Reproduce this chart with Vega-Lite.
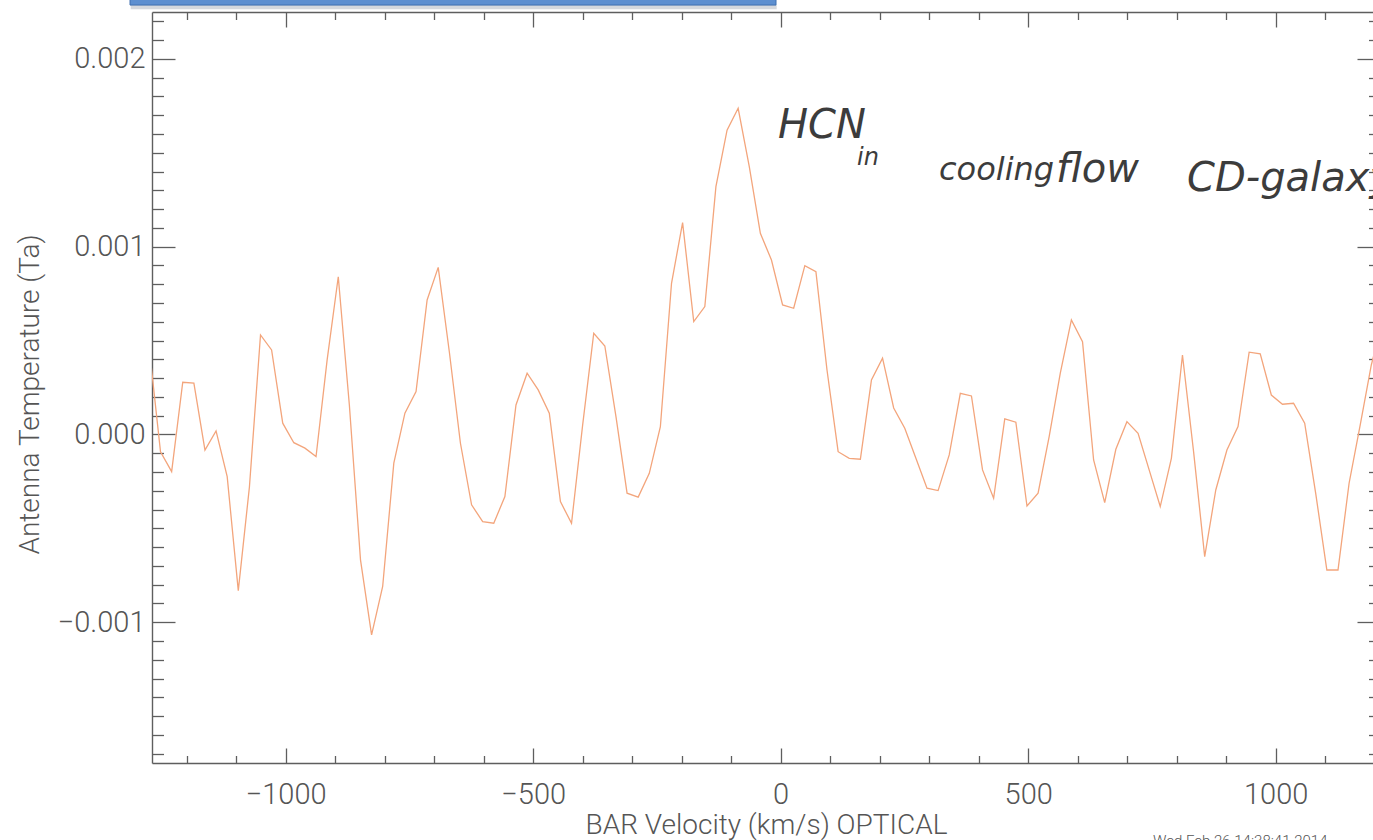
{
  "$schema": "https://vega.github.io/schema/vega-lite/v6.json",
  "autosize": {"type": "none"},
  "padding": {"left": 152, "top": 12, "right": 0, "bottom": 77},
  "width": 1221,
  "height": 751,
  "background": "white",
  "config": {
    "view": {"stroke": null},
    "axis": {
      "grid": false,
      "domain": false,
      "domainColor": "#5e5e5e",
      "domainWidth": 1.4,
      "tickColor": "#5e5e5e",
      "tickWidth": 1.3,
      "labelFont": "Roboto",
      "labelFontWeight": 300,
      "labelFontSize": 29,
      "labelColor": "#555555",
      "labelFlush": false,
      "labelOverlap": false,
      "labelBound": false,
      "titleFont": "Roboto",
      "titleFontWeight": 300,
      "titleColor": "#555555"
    }
  },
  "datasets": {
    "spectrum": [
      {"v": -1275.2, "t": 0.00045},
      {"v": -1252.8, "t": -0.000092},
      {"v": -1230.3, "t": -0.000198},
      {"v": -1207.9, "t": 0.000278},
      {"v": -1185.4, "t": 0.000273},
      {"v": -1163.0, "t": -0.000083},
      {"v": -1140.6, "t": 0.000019},
      {"v": -1118.1, "t": -0.000225},
      {"v": -1095.7, "t": -0.000832},
      {"v": -1073.2, "t": -0.00028},
      {"v": -1050.8, "t": 0.00053},
      {"v": -1028.4, "t": 0.00045},
      {"v": -1005.9, "t": 0.00006},
      {"v": -983.5, "t": -0.000044},
      {"v": -961.0, "t": -0.000073},
      {"v": -938.6, "t": -0.000118},
      {"v": -916.2, "t": 0.000397},
      {"v": -893.7, "t": 0.00084},
      {"v": -871.3, "t": 0.000157},
      {"v": -848.8, "t": -0.000668},
      {"v": -826.4, "t": -0.001068},
      {"v": -804.0, "t": -0.00081},
      {"v": -781.5, "t": -0.000153},
      {"v": -759.1, "t": 0.000113},
      {"v": -736.6, "t": 0.000228},
      {"v": -714.2, "t": 0.000716},
      {"v": -691.8, "t": 0.00089},
      {"v": -669.3, "t": 0.000439},
      {"v": -646.9, "t": -0.000047},
      {"v": -624.4, "t": -0.000375},
      {"v": -602.0, "t": -0.000464},
      {"v": -579.6, "t": -0.000473},
      {"v": -557.1, "t": -0.000331},
      {"v": -534.7, "t": 0.000157},
      {"v": -512.2, "t": 0.000326},
      {"v": -489.8, "t": 0.000237},
      {"v": -467.4, "t": 0.000113},
      {"v": -444.9, "t": -0.000358},
      {"v": -422.5, "t": -0.000473},
      {"v": -400.0, "t": 0.000051},
      {"v": -377.6, "t": 0.000539},
      {"v": -355.2, "t": 0.000471},
      {"v": -332.7, "t": 0.000095},
      {"v": -310.3, "t": -0.000313},
      {"v": -287.8, "t": -0.000334},
      {"v": -265.4, "t": -0.000207},
      {"v": -243.0, "t": 0.000042},
      {"v": -220.5, "t": 0.000805},
      {"v": -198.1, "t": 0.001128},
      {"v": -175.6, "t": 0.000601},
      {"v": -153.2, "t": 0.000681},
      {"v": -130.8, "t": 0.00132},
      {"v": -108.3, "t": 0.001621},
      {"v": -85.9, "t": 0.001737},
      {"v": -63.4, "t": 0.001426},
      {"v": -41.0, "t": 0.001071},
      {"v": -18.6, "t": 0.000929},
      {"v": 3.9, "t": 0.00069},
      {"v": 26.3, "t": 0.000672},
      {"v": 48.8, "t": 0.000899},
      {"v": 71.2, "t": 0.000867},
      {"v": 93.6, "t": 0.000343},
      {"v": 116.1, "t": -0.000092},
      {"v": 138.5, "t": -0.000127},
      {"v": 161.0, "t": -0.000132},
      {"v": 183.4, "t": 0.00029},
      {"v": 205.8, "t": 0.000406},
      {"v": 228.3, "t": 0.000141},
      {"v": 250.7, "t": 0.000033},
      {"v": 273.2, "t": -0.000127},
      {"v": 295.6, "t": -0.000286},
      {"v": 318.0, "t": -0.000299},
      {"v": 340.5, "t": -0.000109},
      {"v": 362.9, "t": 0.000219},
      {"v": 385.4, "t": 0.000205},
      {"v": 407.8, "t": -0.000189},
      {"v": 430.2, "t": -0.00034},
      {"v": 452.7, "t": 0.000083},
      {"v": 475.1, "t": 0.000065},
      {"v": 497.6, "t": -0.000381},
      {"v": 520.0, "t": -0.000313},
      {"v": 542.4, "t": -0.000012},
      {"v": 564.9, "t": 0.000326},
      {"v": 587.3, "t": 0.00061},
      {"v": 609.8, "t": 0.000494},
      {"v": 632.2, "t": -0.000136},
      {"v": 654.6, "t": -0.000363},
      {"v": 677.1, "t": -0.000079},
      {"v": 699.5, "t": 0.000068},
      {"v": 722.0, "t": 0.000006},
      {"v": 744.4, "t": -0.000189},
      {"v": 766.8, "t": -0.000384},
      {"v": 789.3, "t": -0.000127},
      {"v": 811.7, "t": 0.000423},
      {"v": 834.2, "t": -0.000093},
      {"v": 856.6, "t": -0.000651},
      {"v": 879.0, "t": -0.000296},
      {"v": 901.5, "t": -0.000083},
      {"v": 923.9, "t": 0.000042},
      {"v": 946.4, "t": 0.000438},
      {"v": 968.8, "t": 0.000429},
      {"v": 991.2, "t": 0.00021},
      {"v": 1013.7, "t": 0.000161},
      {"v": 1036.1, "t": 0.000166},
      {"v": 1058.6, "t": 0.00006},
      {"v": 1081.0, "t": -0.000317},
      {"v": 1103.4, "t": -0.000722},
      {"v": 1125.9, "t": -0.000722},
      {"v": 1148.3, "t": -0.00026},
      {"v": 1170.8, "t": 0.000051},
      {"v": 1193.2, "t": 0.00037},
      {"v": 1215.6, "t": 0.0006}
    ]
  },
  "data": {"name": "spectrum"},
  "layer": [
    {
      "mark": {"type": "line", "clip": true, "color": "#f3a57c", "strokeWidth": 1.3},
      "encoding": {
        "x": {
          "field": "v", "type": "quantitative",
          "scale": {"domain": [-1270, 1196.6], "nice": false, "zero": false},
          "axis": {
            "orient": "bottom", "values": [-1000, -500, 0, 500, 1000], "format": "d",
            "ticks": false, "tickSize": 0, "labelPadding": 40, "labelBaseline": "alphabetic",
            "title": "BAR Velocity (km/s) OPTICAL", "titleFontSize": 28,
            "titleX": 614, "titleY": 70, "titleAlign": "center", "titleBaseline": "alphabetic"
          }
        },
        "y": {
          "field": "t", "type": "quantitative",
          "scale": {"domain": [-0.00175, 0.00225], "nice": false, "zero": false},
          "axis": {
            "orient": "left", "values": [-0.001, 0, 0.001, 0.002], "format": ".3f",
            "ticks": false, "tickSize": 0, "labelPadding": 7, "labelBaseline": "middle",
            "title": "Antenna Temperature (Ta)", "titleFontSize": 28, "titleAngle": 270,
            "titleX": -114, "titleY": 382, "titleAlign": "center", "titleBaseline": "alphabetic"
          }
        }
      }
    },
    {
      "mark": {"type": "line", "opacity": 0},
      "encoding": {
        "x": {
          "field": "v", "type": "quantitative",
          "scale": {"domain": [-1270, 1196.6], "nice": false, "zero": false},
          "axis": {"orient": "bottom", "values": [-1000, -500, 0, 500, 1000], "labels": false, "domain": true, "tickSize": -15, "title": null}
        },
        "y": {
          "field": "t", "type": "quantitative",
          "scale": {"domain": [-0.00175, 0.00225], "nice": false, "zero": false},
          "axis": {"orient": "left", "values": [-0.001, 0, 0.001, 0.002], "labels": false, "domain": true, "tickSize": -23, "title": null}
        }
      }
    },
    {
      "mark": {"type": "line", "opacity": 0},
      "encoding": {
        "x": {
          "field": "v", "type": "quantitative",
          "scale": {"domain": [-1270, 1196.6], "nice": false, "zero": false},
          "axis": {"orient": "bottom", "values": [-1200, -1100, -900, -800, -700, -600, -400, -300, -200, -100, 100, 200, 300, 400, 600, 700, 800, 900, 1100], "labels": false, "tickSize": -7.5, "title": null}
        },
        "y": {
          "field": "t", "type": "quantitative",
          "scale": {"domain": [-0.00175, 0.00225], "nice": false, "zero": false},
          "axis": {"orient": "left", "values": [-0.0017, -0.0016, -0.0015, -0.0014, -0.0013, -0.0012, -0.0011, -0.0009, -0.0008, -0.0007, -0.0006, -0.0005, -0.0004, -0.0003, -0.0002, -0.0001, 0.0001, 0.0002, 0.0003, 0.0004, 0.0005, 0.0006, 0.0007, 0.0008, 0.0009, 0.0011, 0.0012, 0.0013, 0.0014, 0.0015, 0.0016, 0.0017, 0.0018, 0.0019, 0.0021, 0.0022], "labels": false, "tickSize": -11.5, "title": null}
        }
      }
    },
    {
      "mark": {"type": "line", "opacity": 0},
      "encoding": {
        "x": {
          "field": "v", "type": "quantitative",
          "scale": {"domain": [-1270, 1196.6], "nice": false, "zero": false},
          "axis": {"orient": "top", "values": [-1000, -500, 0, 500, 1000], "labels": false, "domain": true, "tickSize": -15, "title": null}
        },
        "y": {
          "field": "t", "type": "quantitative",
          "scale": {"domain": [-0.00175, 0.00225], "nice": false, "zero": false},
          "axis": {"orient": "right", "offset": 7, "values": [-0.001, 0, 0.001, 0.002], "labels": false, "domain": true, "tickSize": -23, "title": null}
        }
      }
    },
    {
      "mark": {"type": "line", "opacity": 0},
      "encoding": {
        "x": {
          "field": "v", "type": "quantitative",
          "scale": {"domain": [-1270, 1196.6], "nice": false, "zero": false},
          "axis": {"orient": "top", "values": [-1200, -1100, -900, -800, -700, -600, -400, -300, -200, -100, 100, 200, 300, 400, 600, 700, 800, 900, 1100], "labels": false, "tickSize": -7.5, "title": null}
        },
        "y": {
          "field": "t", "type": "quantitative",
          "scale": {"domain": [-0.00175, 0.00225], "nice": false, "zero": false},
          "axis": {"orient": "right", "offset": 7, "values": [-0.0017, -0.0016, -0.0015, -0.0014, -0.0013, -0.0012, -0.0011, -0.0009, -0.0008, -0.0007, -0.0006, -0.0005, -0.0004, -0.0003, -0.0002, -0.0001, 0.0001, 0.0002, 0.0003, 0.0004, 0.0005, 0.0006, 0.0007, 0.0008, 0.0009, 0.0011, 0.0012, 0.0013, 0.0014, 0.0015, 0.0016, 0.0017, 0.0018, 0.0019, 0.0021, 0.0022], "labels": false, "tickSize": -11.5, "title": null}
        }
      }
    },
    {
      "data": {"values": [{}]},
      "mark": {"type": "rect", "clip": false, "color": "#c3c8ce", "opacity": 0.7},
      "encoding": {
        "x": {"datum": -1313, "type": "quantitative", "scale": {"domain": [-1270, 1196.6], "nice": false, "zero": false}, "axis": null},
        "x2": {"datum": -8},
        "y": {"datum": 0.002287, "type": "quantitative", "scale": {"domain": [-0.00175, 0.00225], "nice": false, "zero": false}, "axis": null},
        "y2": {"datum": 0.002264}
      }
    },
    {
      "data": {"values": [{}]},
      "mark": {"type": "rect", "clip": false, "color": "#5d8fd0", "stroke": "#3f6fb0", "strokeWidth": 1},
      "encoding": {
        "x": {"datum": -1314.4, "type": "quantitative", "scale": {"domain": [-1270, 1196.6], "nice": false, "zero": false}, "axis": null},
        "x2": {"datum": -9.4},
        "y": {"datum": 0.00232, "type": "quantitative", "scale": {"domain": [-0.00175, 0.00225], "nice": false, "zero": false}, "axis": null},
        "y2": {"datum": 0.002287}
      }
    },
    {
      "data": {"values": [{}]},
      "mark": {"type": "text", "clip": false, "text": "HCN", "font": "DejaVu Sans", "fontWeight": 200, "fontStyle": "italic", "fontSize": 40, "color": "#3c3c3c", "align": "left", "baseline": "alphabetic"},
      "encoding": {
        "x": {"datum": -5.4, "type": "quantitative", "scale": {"domain": [-1270, 1196.6], "nice": false, "zero": false}, "axis": null},
        "y": {"datum": 0.00158, "type": "quantitative", "scale": {"domain": [-0.00175, 0.00225], "nice": false, "zero": false}, "axis": null}
      }
    },
    {
      "data": {"values": [{}]},
      "mark": {"type": "text", "clip": false, "text": "in", "font": "DejaVu Sans", "fontWeight": 200, "fontStyle": "italic", "fontSize": 24, "color": "#3c3c3c", "align": "left", "baseline": "alphabetic"},
      "encoding": {
        "x": {"datum": 154.2, "type": "quantitative", "scale": {"domain": [-1270, 1196.6], "nice": false, "zero": false}, "axis": null},
        "y": {"datum": 0.001435, "type": "quantitative", "scale": {"domain": [-0.00175, 0.00225], "nice": false, "zero": false}, "axis": null}
      }
    },
    {
      "data": {"values": [{}]},
      "mark": {"type": "text", "clip": false, "text": "cooling", "font": "DejaVu Sans", "fontWeight": 200, "fontStyle": "italic", "fontSize": 32, "color": "#3c3c3c", "align": "left", "baseline": "alphabetic"},
      "encoding": {
        "x": {"datum": 319.9, "type": "quantitative", "scale": {"domain": [-1270, 1196.6], "nice": false, "zero": false}, "axis": null},
        "y": {"datum": 0.001355, "type": "quantitative", "scale": {"domain": [-0.00175, 0.00225], "nice": false, "zero": false}, "axis": null}
      }
    },
    {
      "data": {"values": [{}]},
      "mark": {"type": "text", "clip": false, "text": "flow", "font": "DejaVu Sans", "fontWeight": 200, "fontStyle": "italic", "fontSize": 40, "color": "#3c3c3c", "align": "left", "baseline": "alphabetic"},
      "encoding": {
        "x": {"datum": 556.2, "type": "quantitative", "scale": {"domain": [-1270, 1196.6], "nice": false, "zero": false}, "axis": null},
        "y": {"datum": 0.001345, "type": "quantitative", "scale": {"domain": [-0.00175, 0.00225], "nice": false, "zero": false}, "axis": null}
      }
    },
    {
      "data": {"values": [{}]},
      "mark": {"type": "text", "clip": false, "text": "CD-galaxy", "font": "DejaVu Sans", "fontWeight": 200, "fontStyle": "italic", "fontSize": 40, "color": "#3c3c3c", "align": "left", "baseline": "alphabetic"},
      "encoding": {
        "x": {"datum": 820.9, "type": "quantitative", "scale": {"domain": [-1270, 1196.6], "nice": false, "zero": false}, "axis": null},
        "y": {"datum": 0.001295, "type": "quantitative", "scale": {"domain": [-0.00175, 0.00225], "nice": false, "zero": false}, "axis": null}
      }
    },
    {
      "data": {"values": [{}]},
      "mark": {"type": "text", "clip": false, "text": "Wed Feb 26 14:38:41 2014", "font": "Roboto", "fontWeight": 300, "fontSize": 15, "color": "#555555", "align": "left", "baseline": "alphabetic"},
      "encoding": {
        "x": {"datum": 752.2, "type": "quantitative", "scale": {"domain": [-1270, 1196.6], "nice": false, "zero": false}, "axis": null},
        "y": {"datum": -0.002192, "type": "quantitative", "scale": {"domain": [-0.00175, 0.00225], "nice": false, "zero": false}, "axis": null}
      }
    }
  ],
  "resolve": {"axis": {"x": "independent", "y": "independent"}}
}
